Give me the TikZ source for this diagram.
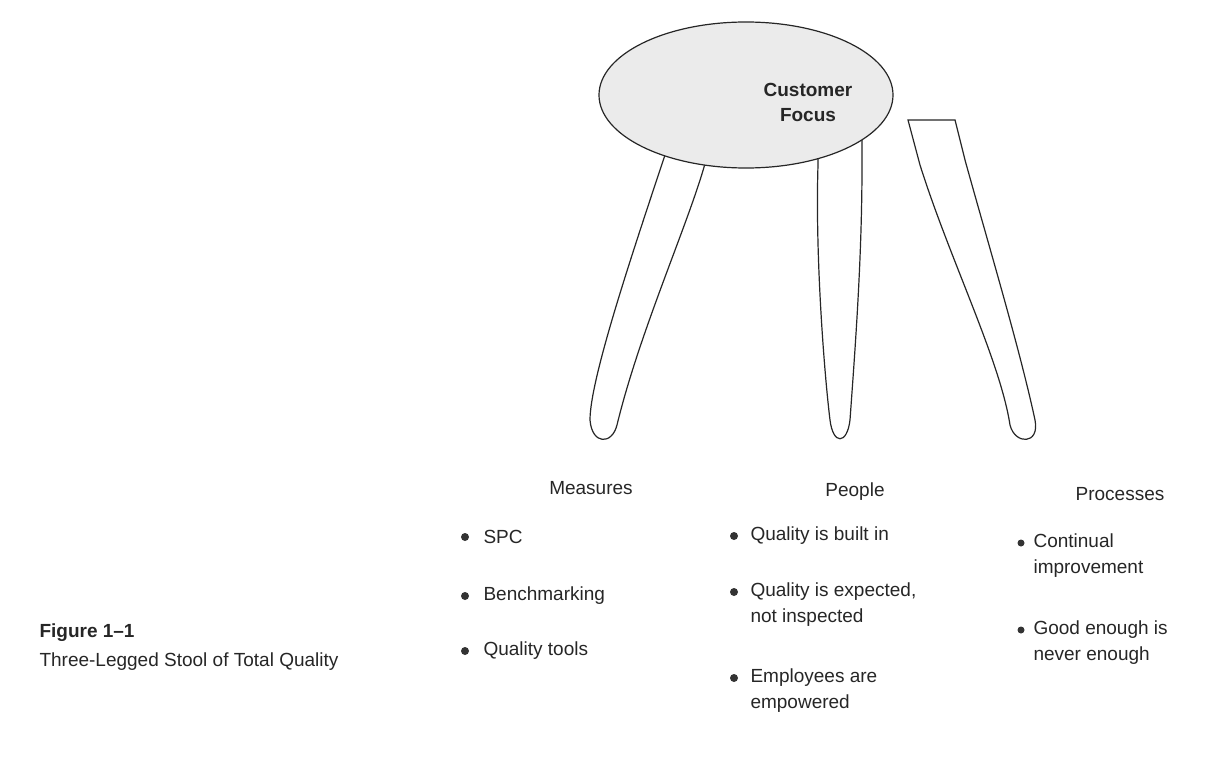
\documentclass[tikz,border=0pt]{standalone}
\usepackage{fontspec}
\setmainfont{Liberation Sans}
\usetikzlibrary{shapes.geometric}
\begin{document}
\begin{tikzpicture}[x=1pt,y=-1pt,
  txt/.style={anchor=west,font=\fontsize{19}{26}\selectfont,align=left,text=black!85},
  head/.style={font=\fontsize{19}{22}\selectfont,text=black!85},
  bul/.style={circle,fill=black!80,inner sep=0pt,minimum size=8pt},
  leg/.style={draw=black!85,line width=1.2pt,fill=white}]
\useasboundingbox (0,0) rectangle (1227,760);
% legs (tops hidden under the seat)
\draw[leg] (672,120) -- (665,155) .. controls (630,260) and (590,380) .. (590,420) .. controls (592,445) and (612,445) .. (617,425) .. controls (640,330) and (690,220) .. (706,160) -- (712,120) -- cycle;
\draw[leg] (818,120) -- (818,165) .. controls (815,260) and (825,380) .. (830,420) .. controls (833,445) and (847,445) .. (850,420) .. controls (855,350) and (862,260) .. (862,165) -- (862,120) -- cycle;
\draw[leg] (908,120) -- (920,165) .. controls (950,260) and (1000,360) .. (1010,425) .. controls (1015,445) and (1040,445) .. (1035,420) .. controls (1020,350) and (990,250) .. (965,160) -- (955,120) -- cycle;
\node[ellipse,draw=black!85,line width=1.2pt,fill=black!8,minimum width=294pt,minimum height=146pt,inner sep=0pt] (seat) at (746,95) {};
\node[head,font=\bfseries\fontsize{19}{25}\selectfont,align=center] (cf) at (808,102) {Customer\\Focus};
% columns
\node[head] (m) at (591,488) {Measures};
\node[head] (p) at (855,492) {People};
\node[head] (pr) at (1120,494) {Processes};
\foreach \y/\t [count=\i] in {537/SPC,596/Benchmarking,651/Quality tools}{
  \node[bul] (mb\i) at (465,\y) {};
  \node[txt] (mt\i) at (480,\y) {\t};}
\node[bul] (pb1) at (734,536) {};
\node[txt] (pt1) at (747,536) {Quality is built in};
\node[bul] (pb2) at (734,592) {};
\node[txt] (pt2) at (747,605) {Quality is expected,\\not inspected};
\node[bul] (pb3) at (734,678) {};
\node[txt] (pt3) at (747,691) {Employees are\\empowered};
\node[bul,minimum size=7pt] (rb1) at (1021,543) {};
\node[txt] (rt1) at (1030,556) {Continual\\improvement};
\node[bul,minimum size=7pt] (rb2) at (1021,630) {};
\node[txt] (rt2) at (1030,643) {Good enough is\\never enough};
\node[txt,font=\bfseries\fontsize{19}{22}\selectfont] (fig) at (36,633) {Figure 1--1};
\node[txt] (cap) at (36,662) {Three-Legged Stool of Total Quality};
\end{tikzpicture}
\end{document}
